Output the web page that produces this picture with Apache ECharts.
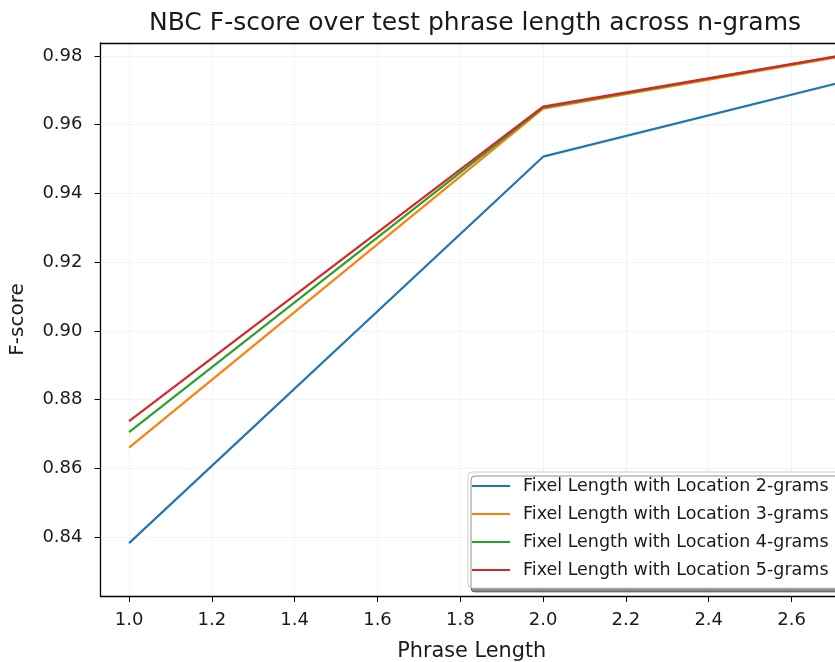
<!DOCTYPE html>
<html><head><meta charset="utf-8">
<script src="https://cdn.jsdelivr.net/npm/echarts@6/dist/echarts.min.js"></script>
<style>html,body{margin:0;padding:0;background:#fff}#c{width:835px;height:662px}</style>
</head><body><div id="c"></div>
<script>
const phraseLength = [1, 2, 3];
const seriesNames = [
  'Fixel Length with Location 2-grams',
  'Fixel Length with Location 3-grams',
  'Fixel Length with Location 4-grams',
  'Fixel Length with Location 5-grams'
];
const gram2 = [0.8382, 0.9507, 0.9808];
const gram3 = [0.8660, 0.9647, 0.9858];
const gram4 = [0.8705, 0.9650, 0.9860];
const gram5 = [0.8737, 0.9653, 0.9859];
const xTicks = [1.0, 1.2, 1.4, 1.6, 1.8, 2.0, 2.2, 2.4, 2.6];
const yTicks = [0.84, 0.86, 0.88, 0.90, 0.92, 0.94, 0.96, 0.98];
const colors = ['#1f77b4', '#ff7f0e', '#2ca02c', '#d62728'];

const all = [gram2, gram3, gram4, gram5];
const font = 'DejaVu Sans';
const txt = '#1a1a1a';
const chart = echarts.init(document.getElementById('c'), null, {renderer: 'canvas'});
const X_MIN = 0.931, X_MAX = 2.705;
chart.setOption({
  animation: false,
  backgroundColor: '#fff',
  title: {
    text: 'NBC F-score over test phrase length across n-grams',
    left: 470, top: 6, textAlign: 'center',
    textStyle: {fontFamily: font, fontSize: 25, fontWeight: 'normal', color: txt}
  },
  grid: {left: 100.5, top: 43, right: 0, bottom: 66, show: false, containLabel: false, outerBoundsMode: 'none'},
  legend: {
    orient: 'vertical', left: 468, top: 472,
    icon: 'rect', itemWidth: 38, itemHeight: 2, itemGap: 8,
    padding: [4, 20, 8, 4],
    backgroundColor: '#fff', borderColor: '#cccccc', borderWidth: 1, borderRadius: 4,
    shadowColor: 'rgba(0,0,0,0.45)', shadowBlur: 0, shadowOffsetX: 3, shadowOffsetY: 4,
    textStyle: {fontFamily: font, fontSize: 17.5, lineHeight: 20, color: txt, padding: [0, 0, 0, 8]},
    data: seriesNames
  },
  xAxis: [{
    type: 'value', min: X_MIN, max: X_MAX, splitNumber: 9,
    name: 'Phrase Length', nameLocation: 'middle', nameGap: 45,
    nameTextStyle: {fontFamily: font, fontSize: 20.8, color: txt, padding: [0, 0, 0, 8]},
    axisLine: {show: true, onZero: false, lineStyle: {color: '#000', width: 1.3}},
    axisTick: {show: true, length: 6, lineStyle: {color: '#000'}, customValues: xTicks},
    axisLabel: {fontFamily: font, fontSize: 18, color: txt, margin: 15, customValues: xTicks,
      formatter: v => v.toFixed(1)},
    splitLine: {show: true, lineStyle: {color: '#e8e8e8', type: 'dotted', width: 1}}
  }, {
    type: 'value', min: X_MIN, max: X_MAX, position: 'top',
    axisLine: {show: true, onZero: false, lineStyle: {color: '#000', width: 1.3}},
    axisTick: {show: false}, axisLabel: {show: false}, splitLine: {show: false}
  }],
  yAxis: {
    type: 'value', min: 0.8228, max: 0.9838, splitNumber: 8,
    name: 'F-score', nameLocation: 'middle', nameGap: 73, nameRotate: 90,
    nameTextStyle: {fontFamily: font, fontSize: 20, color: txt},
    axisLine: {show: true, onZero: false, lineStyle: {color: '#000', width: 1.3}},
    axisTick: {show: true, length: 6, lineStyle: {color: '#000'}, customValues: yTicks},
    axisLabel: {fontFamily: font, fontSize: 18, color: txt, margin: 18, customValues: yTicks,
      formatter: v => v.toFixed(2)},
    splitLine: {show: true, lineStyle: {color: '#e8e8e8', type: 'dotted', width: 1}}
  },
  series: all.map((arr, i) => ({
    name: seriesNames[i], type: 'line', symbol: 'none', clip: true,
    xAxisIndex: 0,
    color: colors[i],
    lineStyle: {color: colors[i], width: 2.2},
    data: phraseLength.map((x, j) => [x, arr[j]])
  }))
});
</script></body></html>
